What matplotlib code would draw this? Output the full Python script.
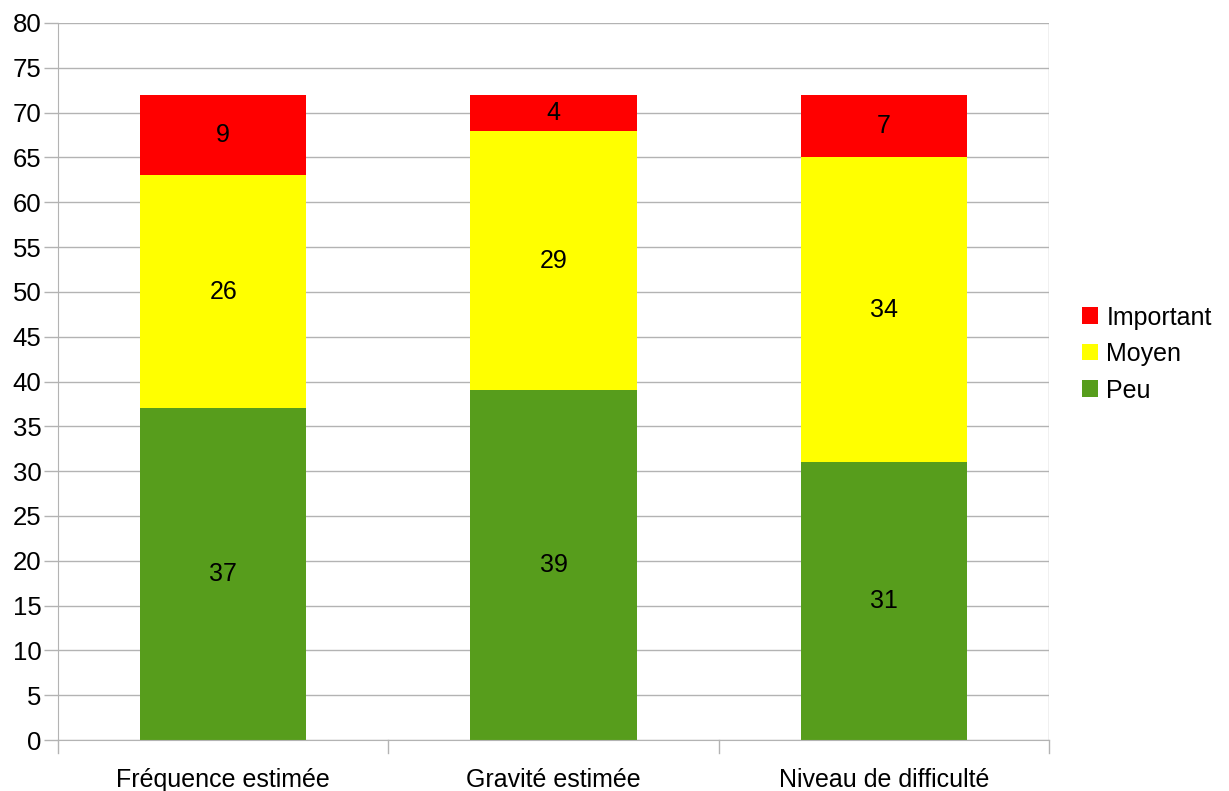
import matplotlib.pyplot as plt
import numpy as np

categories = ["Fréquence estimée", "Gravité estimée", "Niveau de difficulté"]
peu = [37, 39, 31]
moyen = [26, 29, 34]
important = [9, 4, 7]

series = [("Peu", peu, "#579d1c"), ("Moyen", moyen, "#ffff00"), ("Important", important, "#ff0000")]

plt.rcParams['font.family'] = ['Liberation Sans', 'DejaVu Sans']

fig = plt.figure(figsize=(12.29, 7.91), dpi=100)
ax = fig.add_axes([58 / 1229, 1 - 740 / 791, (1049 - 58) / 1229, (740 - 23) / 791])

x = np.arange(len(categories))
bottom = np.zeros(len(categories))
handles = {}
for name, vals, color in series:
    bars = ax.bar(x, vals, width=0.503, bottom=bottom, color=color, zorder=2)
    handles[name] = bars
    for xi, b, v in zip(x, bottom, vals):
        ax.text(xi, b + v / 2, str(v), ha='center', va='center', fontsize=18, color='black', zorder=3)
    bottom += np.array(vals)

ax.set_xlim(-0.5, 2.5)
ax.set_ylim(0, 80)
ax.set_yticks(range(0, 81, 5))
ax.yaxis.grid(True, color='#b3b3b3', linewidth=1, zorder=0)
ax.set_axisbelow(True)
for s in ['top', 'right']:
    ax.spines[s].set_visible(False)
ax.spines['left'].set_color('#b3b3b3')
ax.spines['bottom'].set_color('#b3b3b3')

ax.set_xticks(x)
ax.set_xticklabels(categories, fontsize=18)
ax.tick_params(axis='x', length=0, pad=20)
ax.tick_params(axis='y', labelsize=18.5, color='#b3b3b3', length=10, width=1, pad=2)
# category boundary ticks on the x axis
for xb in [-0.5, 0.5, 1.5, 2.5]:
    ax.plot([xb, xb], [0, -1.5], color='#b3b3b3', linewidth=1, clip_on=False)
ax.plot([2.5, 2.5], [0, 80], color='#b3b3b3', linewidth=1, zorder=1)

leg = fig.legend([handles["Important"], handles["Moyen"], handles["Peu"]],
                 ["Important", "Moyen", "Peu"],
                 loc='center left', bbox_to_anchor=(1059 / 1229, 1 - 354 / 791),
                 frameon=False, fontsize=18, handlelength=0.64, handleheight=0.64,
                 handletextpad=0.36, labelspacing=0.5)

fig.savefig("out.png", dpi=100)
